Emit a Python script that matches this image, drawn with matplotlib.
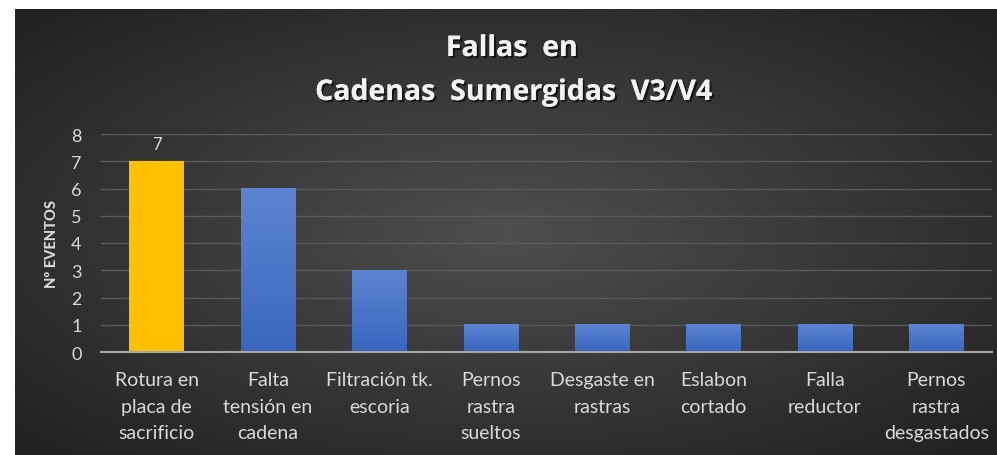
import numpy as np
import matplotlib.pyplot as plt
import matplotlib.patheffects as pe

# datos del grafico
categorias = ['Rotura en\nplaca de\nsacrificio', 'Falta\ntensión en\ncadena', 'Filtración tk.\nescoria',
              'Pernos\nrastra\nsueltos', 'Desgaste en\nrastras', 'Eslabon\ncortado', 'Falla\nreductor',
              'Pernos\nrastra\ndesgastados']
eventos = [7, 6, 3, 1, 1, 1, 1, 1]
colores = ['#FFC000', '#4472C4', '#4472C4', '#4472C4', '#4472C4', '#4472C4', '#4472C4', '#4472C4']
etiquetas = [7, None, None, None, None, None, None, None]
y_ticks = [0, 1, 2, 3, 4, 5, 6, 7, 8]

plt.rcParams['font.family'] = ['Lato', 'DejaVu Sans']
txt = '#d9d9d9'

fig = plt.figure(figsize=(9.97, 4.56), dpi=100)
fig.patch.set_facecolor('white')

# fondo con degradado radial
bg = fig.add_axes([15/997, 0, 982/997, 446/456])
yy, xx = np.mgrid[-1:1:300j, -1:1:600j]
r = np.clip(np.sqrt(xx**2 + yy**2) / 1.35, 0, 1)
c = (0x4e - (0x4e - 0x22) * r) / 255.0
bg.imshow(np.dstack([c, c, c]), aspect='auto', extent=[0, 1, 0, 1], interpolation='bilinear')
bg.set_axis_off()

ax = fig.add_axes([101/997, 1 - 353/456, 891/997, (353 - 135)/456])
ax.set_facecolor('none')
x = np.arange(len(eventos))
bars = ax.bar(x, eventos, width=0.49, color=colores, zorder=3)

# degradado en barras azules
for b, col in zip(bars, colores):
    if col == '#4472C4':
        grad = np.linspace(0, 1, 100).reshape(-1, 1)
        top = np.array([0x5b, 0x84, 0xd0]) / 255
        bot = np.array([0x3a, 0x66, 0xbf]) / 255
        img = bot + (top - bot) * grad[:, :, None] * np.ones((1, 1, 3))
        ax.imshow(img, extent=[b.get_x(), b.get_x() + b.get_width(), 0, b.get_height()],
                  origin='lower', aspect='auto', zorder=4)

for b, lab in zip(bars, etiquetas):
    if lab is not None:
        ax.text(b.get_x() + b.get_width()/2, b.get_height() + 0.35, str(lab), ha='center', va='bottom',
                color=txt, fontsize=12)

ax.set_xlim(-0.5, len(eventos) - 0.5)
ax.set_ylim(0, 8)
ax.set_yticks(y_ticks)
ax.set_xticks(x)
ax.set_xticklabels(categorias, color=txt, fontsize=14, linespacing=1.68)
ax.tick_params(axis='y', length=0, pad=14, labelcolor=txt, labelsize=13)
ax.tick_params(axis='x', length=0, pad=14)
ax.grid(axis='y', color='#5a5a5a', linewidth=1, zorder=0)
for s in ['top', 'right', 'left']:
    ax.spines[s].set_visible(False)
ax.spines['bottom'].set_color('#a6a6a6')
ax.spines['bottom'].set_linewidth(1.5)
ax.spines['bottom'].set_zorder(5)

ax.set_ylabel('Nº EVENTOS', color=txt, fontsize=10.5, fontweight='black', labelpad=9)

sombra = [pe.withSimplePatchShadow(offset=(1.5, -1.5), shadow_rgbFace='black', alpha=0.6), pe.Normal()]
fig.text(512/997, 1 - 57/456, 'Fallas  en', ha='center', va='baseline', color='#f2f2f2',
         fontsize=20.5, fontweight='bold', family=['Open Sans', 'DejaVu Sans'], path_effects=sombra)
fig.text(514/997, 1 - 101/456, 'Cadenas  Sumergidas  V3/V4', ha='center', va='baseline', color='#f2f2f2',
         fontsize=20.5, fontweight='bold', family=['Open Sans', 'DejaVu Sans'], path_effects=sombra)

fig.savefig('out.png', dpi=100)
